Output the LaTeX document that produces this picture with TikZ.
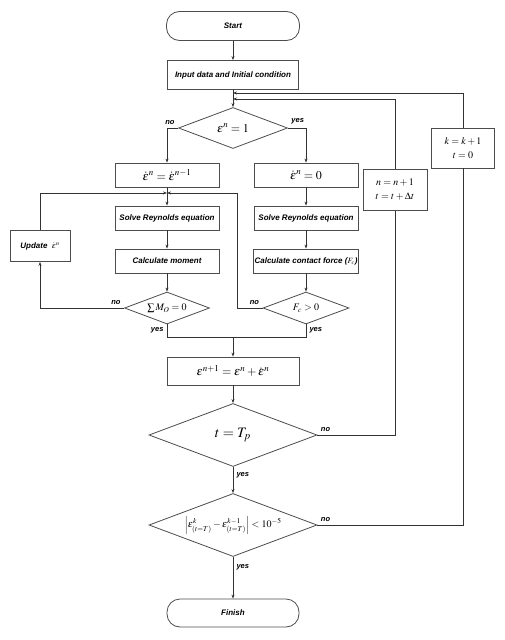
\documentclass[tikz,border=0pt]{standalone}
\usepackage{mathptmx}
\usepackage[no-math]{fontspec}
\setmainfont{Liberation Sans}
\usetikzlibrary{shapes.geometric,arrows.meta}
\tikzset{
  ln/.style={draw=black!80, line width=0.8pt},
  arr/.style={ln, -{Stealth[length=4pt,width=3pt]}},
  lbl/.style={font=\fontsize{7.5}{8}\selectfont\bfseries\itshape},
  box/.style={draw=black!70, line width=0.8pt, rectangle, inner sep=1pt, minimum width=104pt, minimum height=24pt, font=\fontsize{8}{9}\selectfont\bfseries\itshape},
  term/.style={box, rounded corners=13pt, minimum width=133pt, minimum height=29pt},
  dia/.style={draw=black!70, line width=0.8pt, diamond, aspect=2.6, inner sep=0pt},
  mbox/.style={draw=black!70, line width=0.8pt, rectangle, inner sep=1pt, align=center}
}
\begin{document}
\begin{tikzpicture}[x=1pt,y=-1pt]
\useasboundingbox (0,0) rectangle (504,640);
\node[term] (start) at (233,26) {Start};
\node[box, minimum width=131pt, minimum height=29pt] (input) at (233,75) {Input data and Initial condition};
\node[dia, minimum width=109pt, minimum height=41pt] (d1) at (233,128) {\large $\varepsilon^{n}=1$};
\node[box] (b1) at (167,175) {\large $\dot{\varepsilon}^{n}=\dot{\varepsilon}^{n-1}$};
\node[box] (b2) at (306,175) {\large $\dot{\varepsilon}^{n}=0$};
\node[mbox, minimum width=64pt, minimum height=41pt] (nb) at (395,190) {$n=n+1$\\[2pt] $t=t+\Delta t$};
\node[mbox, minimum width=63pt, minimum height=40pt] (kb) at (463,148) {$k=k+1$\\[2pt] $t=0$};
\node[box] (s1) at (167,218) {Solve Reynolds equation};
\node[box] (s2) at (306,218) {Solve Reynolds equation};
\node[box, minimum width=60pt, minimum height=31pt] (up) at (40,246) {Update \ $\dot{\varepsilon}^{n}$};
\node[box] (cm) at (167,261) {Calculate moment};
\node[box] (cf) at (306,261) {Calculate contact force ($F_c$)};
\node[dia, minimum width=85pt, minimum height=32pt] (dM) at (167,308) {$\sum M_O=0$};
\node[dia, minimum width=86pt, minimum height=32pt] (dF) at (306,308) {$F_c>0$};
\node[box, minimum width=132pt, minimum height=28pt] (e1) at (233,371) {\large $\varepsilon^{n+1}=\varepsilon^{n}+\dot{\varepsilon}^{n}$};
\node[dia, minimum width=168pt, minimum height=63pt] (dT) at (233,435) {\Large $t=T_p$};
\node[dia, minimum width=168pt, minimum height=63pt] (dC) at (233,525) {$\left|\varepsilon^{k}_{(t=T)}-\varepsilon^{k-1}_{(t=T)}\right|<10^{-5}$};
\node[term, minimum width=132pt, minimum height=28pt] (fin) at (233,613) {Finish};
\coordinate (jk) at (233,93);
\coordinate (jn) at (233,99);
\coordinate (jl) at (167,193);
\coordinate (fx) at (237,308);
\coordinate (mj) at (233,337);
\draw[arr] (start) -- (input);
\draw[arr] (input) -- (d1);
\draw[arr] (d1.west) -| (b1.north);
\draw[arr] (d1.east) -| (b2.north);
\node[lbl, anchor=south east] (no1) at (d1.west) {no};
\node[lbl, anchor=south west] (yes1) at (d1.east) {yes};
\draw[arr] (b1) -- (s1);
\draw[arr] (s1) -- (cm);
\draw[arr] (cm) -- (dM);
\draw[arr] (b2) -- (s2);
\draw[arr] (s2) -- (cf);
\draw[arr] (cf) -- (dF);
\draw[arr] (dM.west) -| (up.south);
\draw[arr] (up.north) |- (jl);
\draw[arr] (dF.west) -- (fx) |- (jl);
\node[lbl, anchor=south east] (no2) at (dM.west) {no};
\node[lbl, anchor=south east] (no3) at (dF.west) {no};
\draw[ln] (dM.south) |- (mj);
\draw[ln] (dF.south) |- (mj);
\node[lbl, anchor=north east] (yes2) at (dM.south) {yes};
\node[lbl, anchor=north west] (yes3) at (dF.south) {yes};
\draw[arr] (mj) -- (e1);
\draw[arr] (e1) -- (dT);
\draw[ln] (dT.east) -| (nb.south);
\draw[arr] (nb.north) |- (jn);
\node[lbl, anchor=south west] (no4) at (dT.east) {no};
\draw[arr] (dT) -- (dC);
\node[lbl, anchor=west] (yes4) at (233,475) {yes};
\draw[ln] (dC.east) -| (kb.south);
\draw[arr] (kb.north) |- (jk);
\node[lbl, anchor=south west] (no5) at (dC.east) {no};
\draw[arr] (dC) -- (fin);
\node[lbl, anchor=west] (yes5) at (233,567) {yes};
\end{tikzpicture}
\end{document}
